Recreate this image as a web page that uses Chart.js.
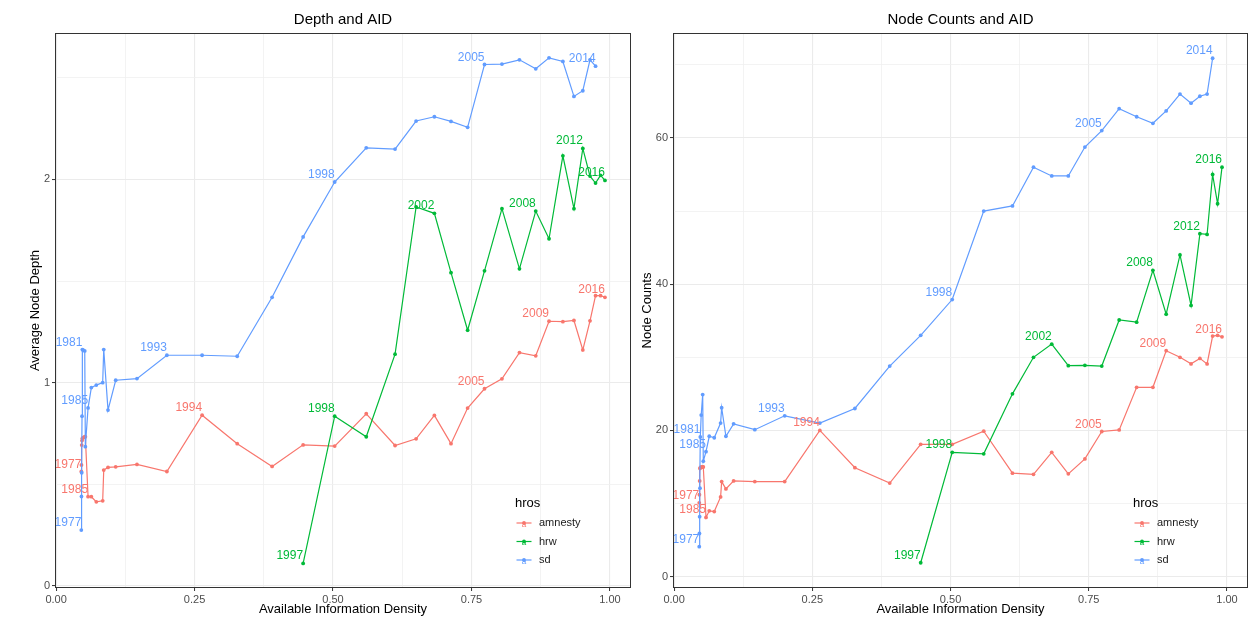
<!DOCTYPE html>
<html>
<head>
<meta charset="utf-8">
<script src="https://cdn.jsdelivr.net/npm/chart.js@4.4.1/dist/chart.umd.min.js"></script>
<style>
  body { margin: 0; background: #fff; }
  #left { position: absolute; left: 0; top: 0; }
  #right { position: absolute; left: 640px; top: 0; }
</style>
</head>
<body>
<canvas id="left" width="640" height="620"></canvas>
<canvas id="right" width="615" height="620"></canvas>
<script>
const years = [1977, 1978, 1979, 1980, 1981, 1982, 1983, 1984, 1985, 1986,
  1987, 1988, 1989, 1990, 1991, 1992, 1993, 1994, 1995, 1996,
  1997, 1998, 1999, 2000, 2001, 2002, 2003, 2004, 2005, 2006,
  2007, 2008, 2009, 2010, 2011, 2012, 2013, 2014, 2015, 2016];

// available information density per year
const aid = [0.0455, 0.0458, 0.0462, 0.0468, 0.0474, 0.049, 0.0517, 0.0528, 0.0577, 0.0636,
  0.0726, 0.0841, 0.086, 0.0937, 0.1076, 0.146, 0.2, 0.2636, 0.327, 0.39,
  0.446, 0.503, 0.56, 0.612, 0.65, 0.683, 0.713, 0.743, 0.7735, 0.805,
  0.8366, 0.866, 0.89, 0.915, 0.935, 0.951, 0.964, 0.974, 0.983, 0.991];

const amnestyDepth = [0.563, 0.595, 0.693, 0.715, 0.726, 0.73, 0.734, 0.734, 0.439, 0.439,
  0.414, 0.419, 0.57, 0.583, 0.586, 0.598, 0.563, 0.84, 0.7, 0.588,
  0.694, 0.688, 0.847, 0.691, 0.724, 0.839, 0.7, 0.875, 0.97, 1.019,
  1.148, 1.132, 1.302, 1.3, 1.306, 1.161, 1.304, 1.428, 1.428, 1.42];
const hrwDepth = [null, null, null, null, null, null, null, null, null, null,
  null, null, null, null, null, null, null, null, null, null,
  0.111, 0.835, 0.734, 1.14, 1.864, 1.833, 1.541, 1.258, 1.55, 1.856,
  1.56, 1.844, 1.708, 2.116, 1.856, 2.152, 2.016, 1.982, 2.02, 1.995];
const sdDepth = [0.275, 0.44, 0.557, 0.835, 1.163, 1.16, 1.156, 0.685, 0.876, 0.976,
  0.988, 1.0, 1.163, 0.865, 1.012, 1.02, 1.135, 1.135, 1.13, 1.42,
  1.717, 1.987, 2.155, 2.149, 2.287, 2.308, 2.285, 2.256, 2.565, 2.567,
  2.588, 2.544, 2.598, 2.58, 2.408, 2.436, 2.588, 2.557, null, null];

const amnestyCounts = [10.1, 11.2, 13.1, 14.8, 14.9, 15.0, 15.0, 15.0, 8.1, 9.0,
  8.9, 10.9, 13.0, 12.0, 13.1, 13.0, 13.0, 20.0, 14.9, 12.8,
  18.1, 18.1, 19.9, 14.15, 14.0, 17.0, 14.06, 16.1, 19.85, 20.07,
  25.9, 25.9, 30.9, 30.0, 29.1, 29.85, 29.1, 32.9, 33.0, 32.8];
const hrwCounts = [null, null, null, null, null, null, null, null, null, null,
  null, null, null, null, null, null, null, null, null, null,
  1.9, 17.0, 16.8, 25.0, 30.0, 31.8, 28.85, 28.9, 28.8, 35.1,
  34.8, 41.9, 35.9, 44.0, 37.1, 46.9, 46.8, 55.0, 51.0, 56.0];
const sdCounts = [4.1, 5.9, 8.2, 12.1, 19.1, 22.1, 24.9, 15.8, 17.1, 19.2,
  19.0, 21.0, 23.1, 19.2, 20.9, 20.1, 22.0, 21.0, 23.0, 28.8,
  33.0, 37.9, 50.0, 50.7, 56.0, 54.8, 54.8, 58.75, 61.0, 64.0,
  62.9, 62.0, 63.7, 66.0, 64.75, 65.7, 66.0, 70.9, null, null];

// years written next to the lines
const amnestyLabels = [1977, 1985, 1994, 2005, 2009, 2016];
const hrwLabels = [1997, 1998, 2002, 2008, 2012, 2016];
const sdLabels = [1977, 1981, 1985, 1993, 1998, 2005, 2014];

const hros = ['amnesty', 'hrw', 'sd'];
const colors = ['#F8766D', '#00BA38', '#619CFF'];
const FONT = '"Liberation Sans", Arial, sans-serif';

function toPoints(values) {
    const pts = [];
    values.forEach((v, i) => {
        if (v !== null) pts.push({ x: aid[i], y: v, year: years[i] });
    });
    return pts;
}

function isMajor(v, step) {
    return Math.abs(v / step - Math.round(v / step)) < 1e-6;
}

function makeDataset(i, values, labels) {
    return {
        label: hros[i],
        data: toPoints(values),
        labelYears: labels,
        showLine: true,
        borderColor: colors[i],
        backgroundColor: colors[i],
        borderWidth: 1.2,
        pointRadius: 1.9,
        pointBorderWidth: 0,
        pointHoverRadius: 1.9,
        order: 2 - i
    };
}

const panelDecor = {
    id: 'panelDecor',
    afterDatasetsDraw(chart) {
        const ctx = chart.ctx;
        const a = chart.chartArea;
        ctx.save();
        ctx.font = '12px ' + FONT;
        ctx.textAlign = 'right';
        ctx.textBaseline = 'alphabetic';
        chart.data.datasets.forEach((ds, i) => {
            const meta = chart.getDatasetMeta(i);
            ctx.fillStyle = ds.borderColor;
            ds.data.forEach((p, j) => {
                if (ds.labelYears.includes(p.year)) {
                    const el = meta.data[j];
                    ctx.fillText(String(p.year), el.x, el.y - 4);
                }
            });
        });
        // panel border
        ctx.strokeStyle = '#333333';
        ctx.lineWidth = 1;
        ctx.strokeRect(Math.round(a.left) + 0.5, Math.round(a.top) + 0.5,
            Math.round(a.width) - 1, Math.round(a.height) - 1);

        // legend inside the panel
        const lx = a.left + 460;
        ctx.textAlign = 'left';
        ctx.textBaseline = 'middle';
        ctx.fillStyle = '#000';
        ctx.font = '13px ' + FONT;
        ctx.fillText('hros', lx, 503);
        const rows = [523, 541.5, 560];
        chart.data.datasets.forEach((ds, i) => {
            const y = rows[i];
            ctx.strokeStyle = ds.borderColor;
            ctx.lineWidth = 1.2;
            ctx.beginPath();
            ctx.moveTo(lx + 1.5, y);
            ctx.lineTo(lx + 16.5, y);
            ctx.stroke();
            ctx.fillStyle = ds.borderColor;
            ctx.beginPath();
            ctx.arc(lx + 9, y, 1.9, 0, Math.PI * 2);
            ctx.fill();
            ctx.font = '8px ' + FONT;
            ctx.textAlign = 'center';
            ctx.fillText('a', lx + 9, y + 1.5);
            ctx.textAlign = 'left';
            ctx.font = '11px ' + FONT;
            ctx.fillStyle = '#1a1a1a';
            ctx.fillText(ds.label, lx + 24, y);
        });
        ctx.restore();
    }
};

function gridOpts(step) {
    return {
        color: c => isMajor(c.tick.value, step) ? '#EBEBEB' : '#F0F0F0',
        lineWidth: c => isMajor(c.tick.value, step) ? 1.1 : 0.8,
        tickLength: 3,
        tickWidth: 1,
        tickColor: c => isMajor(c.tick.value, step) ? '#333333' : 'rgba(0,0,0,0)'
    };
}

function makeChart(id, title, yTitle, yMin, yMax, yStep, yLabelStep, yWidth, yTitlePad, padRight, datasets) {
    return new Chart(document.getElementById(id), {
        type: 'scatter',
        data: { datasets: datasets },
        options: {
            responsive: false,
            animation: false,
            devicePixelRatio: 1,
            layout: { padding: { left: 0, right: padRight, top: 0, bottom: 0 } },
            plugins: {
                legend: { display: false },
                tooltip: { enabled: false },
                title: {
                    display: true,
                    text: title,
                    fullSize: false,
                    color: '#000',
                    font: { size: 15, family: FONT, weight: 'normal' },
                    padding: { top: 11, bottom: 4 }
                }
            },
            scales: {
                x: {
                    type: 'linear',
                    min: -0.002,
                    max: 1.038,
                    afterFit: s => { s.height = 32; },
                    border: { display: false },
                    grid: gridOpts(0.25),
                    ticks: {
                        stepSize: 0.125,
                        includeBounds: false,
                        autoSkip: false,
                        maxRotation: 0,
                        padding: 2,
                        color: '#4D4D4D',
                        font: { size: 11, family: FONT },
                        callback: v => isMajor(v, 0.25) ? v.toFixed(2) : ''
                    },
                    title: {
                        display: true,
                        text: 'Available Information Density',
                        color: '#000',
                        font: { size: 13, family: FONT },
                        padding: { top: 0, bottom: 3 }
                    }
                },
                y: {
                    type: 'linear',
                    min: yMin,
                    max: yMax,
                    afterFit: s => { s.width = yWidth; },
                    border: { display: false },
                    grid: gridOpts(yLabelStep),
                    ticks: {
                        stepSize: yStep,
                        includeBounds: false,
                        padding: 2,
                        color: '#4D4D4D',
                        font: { size: 11, family: FONT },
                        callback: v => isMajor(v, yLabelStep) ? String(v) : ''
                    },
                    title: {
                        display: true,
                        text: yTitle,
                        color: '#000',
                        font: { size: 13, family: FONT },
                        padding: { top: yTitlePad, bottom: 0 }
                    }
                }
            }
        },
        plugins: [panelDecor]
    });
}

makeChart('left', 'Depth and AID', 'Average Node Depth', -0.01, 2.72, 0.5, 1, 55, 28, 9, [
    makeDataset(0, amnestyDepth, amnestyLabels),
    makeDataset(1, hrwDepth, hrwLabels),
    makeDataset(2, sdDepth, sdLabels)
]);

makeChart('right', 'Node Counts and AID', 'Node Counts', -1.55, 74.35, 10, 20, 33, 0, 7, [
    makeDataset(0, amnestyCounts, amnestyLabels),
    makeDataset(1, hrwCounts, hrwLabels),
    makeDataset(2, sdCounts, sdLabels)
]);
</script>
</body>
</html>
